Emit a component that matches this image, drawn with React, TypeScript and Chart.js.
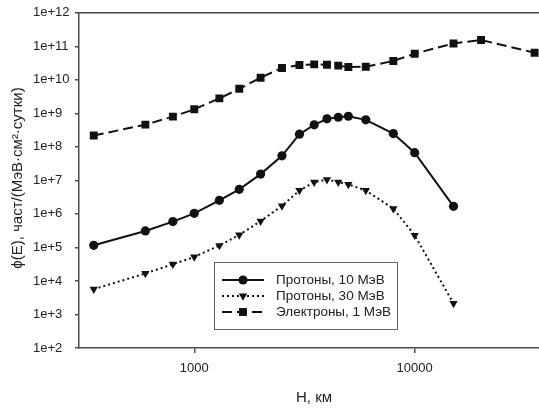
import React, { useEffect, useRef } from 'react';
import { Chart, registerables } from 'chart.js';

Chart.register(...registerables);

const heights = [350, 600, 800, 1000, 1300, 1600, 2000, 2500, 3000, 3500, 4000, 4500, 5000, 6000, 8000, 10000, 15000];
const electronHeights = [350, 600, 800, 1000, 1300, 1600, 2000, 2500, 3000, 3500, 4000, 4500, 5000, 6000, 8000, 10000, 15000, 20000, 35000];
const protons10 = [1.16e5, 3.1e5, 5.9e5, 1.04e6, 2.54e6, 5.4e6, 1.54e7, 5.4e7, 2.39e8, 4.55e8, 6.86e8, 7.65e8, 8.2e8, 6.4e8, 2.5e8, 6.7e7, 1.68e6];
const protons30 = [5.7e3, 1.67e4, 3.16e4, 5.2e4, 1.14e5, 2.36e5, 6.1e5, 1.74e6, 5.0e6, 8.9e6, 1.05e7, 8.9e6, 7.6e6, 5.0e6, 1.44e6, 2.3e5, 2.14e3];
const electrons1 = [2.18e8, 4.6e8, 8.0e8, 1.32e9, 2.8e9, 5.4e9, 1.16e10, 2.26e10, 2.77e10, 2.89e10, 2.83e10, 2.65e10, 2.42e10, 2.47e10, 3.66e10, 6.03e10, 1.22e11, 1.54e11, 6.46e10];

const seriesLabels = ['Протоны, 10 МэВ', 'Протоны, 30 МэВ', 'Электроны, 1 МэВ'];
const yTicks = [1e2, 1e3, 1e4, 1e5, 1e6, 1e7, 1e8, 1e9, 1e10, 1e11, 1e12];
const xTicks = [1000, 10000];
const xTitle = 'H, км';
const yTitle = 'ϕ(E), част/(МэВ·см²·сутки)';

const FONT = '"Liberation Sans", Arial, sans-serif';
const INK = '#111111';
const AXIS = '#4a4a4a';
const TEXT = '#222222';

function drawMarker(ctx: CanvasRenderingContext2D, style: string, x: number, y: number, r: number) {
  ctx.beginPath();
  if (style === 'circle') {
    ctx.arc(x, y, r, 0, Math.PI * 2);
  } else if (style === 'rect') {
    const s = r * Math.SQRT1_2;
    ctx.rect(x - s, y - s, 2 * s, 2 * s);
  } else {
    for (let i = 0; i < 3; i++) {
      const a = Math.PI + (i * 2 * Math.PI) / 3;
      const px = x + Math.sin(a) * r;
      const py = y - Math.cos(a) * r;
      if (i === 0) ctx.moveTo(px, py);
      else ctx.lineTo(px, py);
    }
    ctx.closePath();
  }
  ctx.fill();
}

const decorPlugin = {
  id: 'decor',
  afterDraw(chart: any) {
    const { ctx, chartArea } = chart;
    ctx.save();
    ctx.strokeStyle = AXIS;
    ctx.lineWidth = 1.5;
    ctx.beginPath();
    ctx.moveTo(chartArea.left, chartArea.top);
    ctx.lineTo(chartArea.right + 10, chartArea.top);
    ctx.stroke();

    ctx.fillStyle = TEXT;
    ctx.textAlign = 'center';
    ctx.textBaseline = 'middle';
    ctx.font = `15px ${FONT}`;
    ctx.fillText(xTitle, 314, 398);
    ctx.save();
    ctx.translate(18, 178);
    ctx.rotate(-Math.PI / 2);
    ctx.font = `15px ${FONT}`;
    ctx.fillText(yTitle, 0, 0);
    ctx.restore();

    const bx = 214.5, by = 262.5, bw = 183, bh = 67;
    ctx.fillStyle = '#ffffff';
    ctx.fillRect(bx, by, bw, bh);
    ctx.strokeStyle = '#666666';
    ctx.lineWidth = 1;
    ctx.strokeRect(bx, by, bw, bh);
    const rows = [280, 296, 312];
    chart.data.datasets.forEach((ds: any, i: number) => {
      const y = rows[i];
      ctx.strokeStyle = INK;
      ctx.lineWidth = ds.borderWidth;
      ctx.setLineDash(ds.borderDash || []);
      ctx.beginPath();
      ctx.moveTo(222, y);
      ctx.lineTo(264, y);
      ctx.stroke();
      ctx.setLineDash([]);
      ctx.fillStyle = INK;
      drawMarker(ctx, ds.legendMarker, 243, y, ds.pointRadius);
      ctx.fillStyle = TEXT;
      ctx.font = `13.5px ${FONT}`;
      ctx.textAlign = 'left';
      ctx.textBaseline = 'middle';
      ctx.fillText(ds.label, 276, y + 0.5);
    });
    ctx.restore();
  },
};

export default function App() {
  const canvasRef = useRef<HTMLCanvasElement | null>(null);

  useEffect(() => {
    if (!canvasRef.current) return;
    const chart = new Chart(canvasRef.current, {
      type: 'line',
      data: {
        datasets: [
          {
            label: seriesLabels[0],
            data: heights.map((h, i) => ({ x: h, y: protons10[i] })),
            borderColor: INK,
            backgroundColor: INK,
            borderWidth: 2,
            pointStyle: 'circle',
            pointRadius: 4.6,
            pointBorderWidth: 0,
            legendMarker: 'circle',
          } as any,
          {
            label: seriesLabels[1],
            data: heights.map((h, i) => ({ x: h, y: protons30[i] })),
            borderColor: INK,
            backgroundColor: INK,
            borderWidth: 2,
            borderDash: [2, 3],
            pointStyle: 'triangle',
            rotation: 180,
            pointRadius: 4.8,
            pointBorderWidth: 0,
            legendMarker: 'triangle',
          } as any,
          {
            label: seriesLabels[2],
            data: electronHeights.map((h, i) => ({ x: h, y: electrons1[i] })),
            borderColor: INK,
            backgroundColor: INK,
            borderWidth: 2,
            borderDash: [10, 5],
            pointStyle: 'rect',
            pointRadius: 5.6,
            pointBorderWidth: 0,
            legendMarker: 'rect',
          } as any,
        ],
      },
      options: {
        responsive: false,
        animation: false,
        devicePixelRatio: 1,
        layout: { padding: { left: 33, top: 12, right: 0, bottom: 0 } },
        plugins: {
          legend: { display: false },
          tooltip: { enabled: false },
        },
        elements: { line: { tension: 0 } },
        scales: {
          x: {
            type: 'logarithmic',
            min: 300,
            max: 40000,
            afterBuildTicks: (scale: any) => {
              scale.ticks = xTicks.map((v) => ({ value: v }));
            },
            afterFit: (scale: any) => {
              scale.height = 60;
            },
            ticks: {
              color: TEXT,
              font: { size: 13, family: FONT },
              padding: 8,
              maxRotation: 0,
              autoSkip: false,
              callback: (v: any) => String(v),
            },
            grid: { drawOnChartArea: false, drawTicks: true, tickLength: 5, color: AXIS, lineWidth: 1.5 },
            border: { display: true, color: AXIS, width: 1.5 },
          },
          y: {
            type: 'logarithmic',
            min: 1e2,
            max: 1e12,
            afterBuildTicks: (scale: any) => {
              scale.ticks = yTicks.map((v) => ({ value: v }));
            },
            afterFit: (scale: any) => {
              scale.width = 46;
            },
            ticks: {
              color: TEXT,
              font: { size: 13, family: FONT },
              padding: 5,
              crossAlign: 'far',
              autoSkip: false,
              callback: (v: any) => '1e+' + Math.round(Math.log10(Number(v))),
            },
            grid: { drawOnChartArea: false, drawTicks: true, tickLength: 4, color: AXIS, lineWidth: 1.5 },
            border: { display: true, color: AXIS, width: 1.5 },
          },
        },
      },
      plugins: [decorPlugin],
    } as any);
    return () => chart.destroy();
  }, []);

  return (
    <div style={{ position: 'absolute', left: 0, top: 0, width: 539, height: 408, overflow: 'hidden', background: '#fff' }}>
      <canvas ref={canvasRef} width={553} height={408} style={{ display: 'block' }} />
    </div>
  );
}
